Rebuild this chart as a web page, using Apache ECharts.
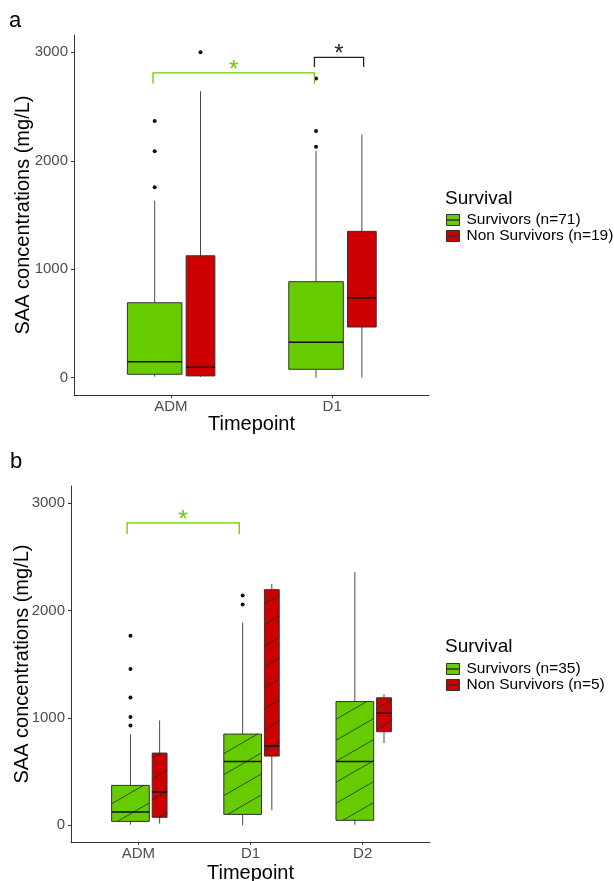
<!DOCTYPE html>
<html><head><meta charset="utf-8">
<script src="https://cdn.jsdelivr.net/npm/echarts@6/dist/echarts.min.js"></script>
<style>html,body{margin:0;padding:0;background:#fff}#c{width:614px;height:881px}</style>
</head><body><div id="c"></div>
<script>
// ---------------- data ----------------
const categoriesA = ['ADM', 'D1'];
const categoriesB = ['ADM', 'D1', 'D2'];
const yTicks = [0, 1000, 2000, 3000];
// box stats per timepoint: [lower whisker, Q1, median, Q3, upper whisker]
const survivorsA = [[9, 31, 147, 691, 1631], [0, 77, 326, 885, 2092]];
const nonSurvivorsA = [[8, 16, 96, 1124, 2642], [0, 467, 735, 1349, 2243]];
// outliers: [timepoint index, value]
const survivorsOutA = [[0, 2366], [0, 2089], [0, 1757], [1, 2129], [1, 2274], [1, 2759]];
const nonSurvivorsOutA = [[0, 3000]];
const survivorsB = [[6, 37, 124, 372, 847], [0, 102, 595, 850, 1888], [5, 47, 595, 1153, 2357]];
const nonSurvivorsB = [[16, 75, 310, 673, 977], [140, 645, 738, 2195, 2248], [766, 872, 1045, 1188, 1222]];
const survivorsOutB = [[0, 1765], [0, 1455], [0, 1191], [0, 1008], [0, 930], [1, 2140], [1, 2056]];
const nonSurvivorsOutB = [];
// significance brackets: [from timepoint, from group, to timepoint, to group, bar value, tip value]
const bracketsA = [[0, 0, 1, 0, 2811, 2713], [1, 0, 1, 1, 2953, 2866]];
const bracketsB = [[0, 0, 1, 0, 2816, 2713]];
const bracketLabel = '*';
const legendA = ['Survivors (n=71)', 'Non Survivors (n=19)'];
const legendB = ['Survivors (n=35)', 'Non Survivors (n=5)'];
const legendTitle = 'Survival';
const yAxisTitle = 'SAA concentrations (mg/L)';
const xAxisTitle = 'Timepoint';

// ---------------- styles / layout ----------------
const GREEN = '#66cc00', RED = '#cc0000';
const FONT = '"Liberation Sans", Arial, sans-serif';
const layoutA = {offsets: [-0.10, 0.184], widths: [0.338, 0.178], bracketOffsets: [-0.11, 0.195], bracketColors: [GREEN, '#222']};
const layoutB = {offsets: [-0.07, 0.19], widths: [0.336, 0.132], bracketOffsets: [-0.10, 0.19], bracketColors: [GREEN]};

function hatchLines(x0, x1, yT, yB, spacing, slope) {
  const out = [];
  const w = x1 - x0;
  const cy = (yT + yB) / 2, cx = (x0 + x1) / 2;
  const aC = cy + slope * (cx - x0) + spacing / 2;
  const aMin = yT, aMax = yB + slope * w;
  const k0 = Math.floor((aMin - aC) / spacing) - 1, k1 = Math.ceil((aMax - aC) / spacing) + 1;
  for (let k = k0; k <= k1; k++) {
    const a = aC + k * spacing;
    const lo = Math.max(x0, x0 + (a - yB) / slope);
    const hi = Math.min(x1, x0 + (a - yT) / slope);
    if (hi - lo > 0.5) {
      out.push({type: 'line', shape: {x1: lo, y1: a - slope * (lo - x0), x2: hi, y2: a - slope * (hi - x0)},
        style: {stroke: '#2a2a2a', lineWidth: 0.8}});
    }
  }
  return out;
}

function boxRenderer(offset, widthFrac, color, hatch) {
  return function (params, api) {
    const x = api.value(0);
    const unit = api.size([1, 0])[0];
    const cx = api.coord([x, 0])[0] + offset * unit;
    const w = widthFrac * unit;
    const yLo = api.coord([x, api.value(1)])[1];
    const yQ1 = api.coord([x, api.value(2)])[1];
    const yMed = api.coord([x, api.value(3)])[1];
    const yQ3 = api.coord([x, api.value(4)])[1];
    const yHi = api.coord([x, api.value(5)])[1];
    const x0 = cx - w / 2, x1 = cx + w / 2;
    const children = [
      {type: 'line', shape: {x1: cx, y1: yHi, x2: cx, y2: yLo}, style: {stroke: '#4a4a4a', lineWidth: 1}},
      {type: 'rect', shape: {x: x0, y: yQ3, width: w, height: yQ1 - yQ3}, style: {fill: color, stroke: 'none'}}
    ];
    if (hatch) children.push(...hatchLines(x0, x1, yQ3, yQ1, 21, Math.tan(Math.PI / 6)));
    children.push({type: 'rect', shape: {x: x0, y: yQ3, width: w, height: yQ1 - yQ3}, style: {fill: 'none', stroke: '#333', lineWidth: 1}});
    children.push({type: 'line', shape: {x1: x0, y1: yMed, x2: x1, y2: yMed}, style: {stroke: '#111', lineWidth: 1.5}});
    return {type: 'group', children};
  };
}

function pointRenderer(offset) {
  return function (params, api) {
    const x = api.value(0);
    const unit = api.size([1, 0])[0];
    const p = api.coord([x, api.value(1)]);
    return {type: 'circle', shape: {cx: p[0] + offset * unit, cy: p[1], r: 2}, style: {fill: '#111'}};
  };
}

function bracketRenderer(layout) {
  return function (params, api) {
    const unit = api.size([1, 0])[0];
    const fx = api.coord([api.value(0) + 1, 0])[0] + layout.bracketOffsets[api.value(1)] * unit;
    const tx = api.coord([api.value(2) + 1, 0])[0] + layout.bracketOffsets[api.value(3)] * unit;
    const yBar = api.coord([1, api.value(4)])[1];
    const yTip = api.coord([1, api.value(5)])[1];
    const col = layout.bracketColors[params.dataIndex];
    return {type: 'group', children: [
      {type: 'polyline', shape: {points: [[fx, yTip], [fx, yBar], [tx, yBar], [tx, yTip]]}, style: {stroke: col, lineWidth: 1.3, fill: 'none'}},
      {type: 'text', x: (fx + tx) / 2, y: yBar - 2.6, style: {text: bracketLabel, fill: col, font: '24px ' + FONT, align: 'center', verticalAlign: 'middle'}}
    ]};
  };
}

function xAxisFor(gi, cats, max, nameGap) {
  const vals = cats.map((c, i) => i + 1);
  return {
    gridIndex: gi, type: 'value', min: 0.4, max: max,
    axisLine: {show: true, onZero: false, lineStyle: {color: '#333', width: 1}},
    axisTick: {show: true, customValues: vals, length: 3, lineStyle: {color: '#333'}},
    axisLabel: {customValues: vals, formatter: v => cats[Math.round(v) - 1] || '', fontSize: 15, color: '#4d4d4d', margin: 4, fontFamily: FONT},
    splitLine: {show: false},
    name: xAxisTitle, nameLocation: 'middle', nameGap: nameGap, nameMoveOverlap: false,
    nameTextStyle: {fontSize: 20, color: '#000', fontFamily: FONT}
  };
}
function yAxisFor(gi, min, max, nameGap) {
  return {
    gridIndex: gi, type: 'value', min: min, max: max,
    axisLine: {show: true, onZero: false, lineStyle: {color: '#333', width: 1}},
    axisTick: {show: true, customValues: yTicks, length: 3, lineStyle: {color: '#333'}},
    axisLabel: {customValues: yTicks, formatter: v => String(v), fontSize: 15, color: '#4d4d4d', margin: 6, fontFamily: FONT},
    splitLine: {show: false},
    name: yAxisTitle, nameLocation: 'middle', nameGap: nameGap, nameMoveOverlap: false,
    nameTextStyle: {fontSize: 20, color: '#000', fontFamily: FONT}
  };
}

function panelSeries(ai, layout, surv, non, survOut, nonOut, brackets, names, hatch) {
  const common = {xAxisIndex: ai, yAxisIndex: ai, silent: true, clip: false};
  return [
    Object.assign({type: 'custom', name: names[0], itemStyle: {color: GREEN}, encode: {x: 0, y: [1, 2, 3, 4, 5]},
      data: surv.map((s, i) => [i + 1, ...s]), renderItem: boxRenderer(layout.offsets[0], layout.widths[0], GREEN, hatch)}, common),
    Object.assign({type: 'custom', name: names[1], itemStyle: {color: RED}, encode: {x: 0, y: [1, 2, 3, 4, 5]},
      data: non.map((s, i) => [i + 1, ...s]), renderItem: boxRenderer(layout.offsets[1], layout.widths[1], RED, hatch)}, common),
    Object.assign({type: 'custom', name: names[0], itemStyle: {color: GREEN}, encode: {x: 0, y: 1},
      data: survOut.map(o => [o[0] + 1, o[1]]), renderItem: pointRenderer(layout.offsets[0])}, common),
    Object.assign({type: 'custom', name: names[1], itemStyle: {color: RED}, encode: {x: 0, y: 1},
      data: nonOut.map(o => [o[0] + 1, o[1]]), renderItem: pointRenderer(layout.offsets[1])}, common),
    Object.assign({type: 'custom', name: 'brackets' + ai, encode: {x: 0, y: 4},
      data: brackets, renderItem: bracketRenderer(layout), z: 5}, common)
  ];
}

// legend key: box split by a median line (two stacked rectangles, outlines meet in the middle)
const KEY_ICON = 'path://M0,0H13V5.5H0Z M0,5.5H13V11H0Z';
const legendCommon = {
  orient: 'vertical', icon: KEY_ICON, itemWidth: 13, itemHeight: 11, itemGap: 0, padding: 0,
  selectedMode: false,
  itemStyle: {borderColor: '#333', borderWidth: 1},
  textStyle: {fontSize: 15.5, color: '#000', fontFamily: FONT, padding: [0, 0, 0, 2]}
};

const chart = echarts.init(document.getElementById('c'), null, {renderer: 'canvas'});
chart.setOption({
  animation: false,
  textStyle: {fontFamily: FONT},
  title: [
    {text: 'a', left: 9, top: 10, padding: 0, textStyle: {fontSize: 22, fontWeight: 'normal', color: '#000', fontFamily: FONT}},
    {text: 'b', left: 10, top: 451, padding: 0, textStyle: {fontSize: 22, fontWeight: 'normal', color: '#000', fontFamily: FONT}},
    {text: legendTitle, left: 445, top: 189, padding: 0, textStyle: {fontSize: 19, fontWeight: 'normal', color: '#000', fontFamily: FONT}},
    {text: legendTitle, left: 445, top: 637, padding: 0, textStyle: {fontSize: 19, fontWeight: 'normal', color: '#000', fontFamily: FONT}}
  ],
  legend: [
    Object.assign({data: legendA, left: 446, top: 212}, legendCommon),
    Object.assign({data: legendB, left: 446, top: 661}, legendCommon)
  ],
  grid: [
    {left: 74, right: 185, top: 35, height: 360, containLabel: false, outerBoundsMode: 'none'},
    {left: 71, right: 184, top: 486, height: 356, containLabel: false, outerBoundsMode: 'none'}
  ],
  xAxis: [xAxisFor(0, categoriesA, 2.6, 19.5), xAxisFor(1, categoriesB, 3.6, 21.5)],
  yAxis: [yAxisFor(0, -160, 3160, 41), yAxisFor(1, -155, 3160, 38.5)],
  series: [
    ...panelSeries(0, layoutA, survivorsA, nonSurvivorsA, survivorsOutA, nonSurvivorsOutA, bracketsA, legendA, false),
    ...panelSeries(1, layoutB, survivorsB, nonSurvivorsB, survivorsOutB, nonSurvivorsOutB, bracketsB, legendB, true)
  ]
});
</script>
</body></html>
